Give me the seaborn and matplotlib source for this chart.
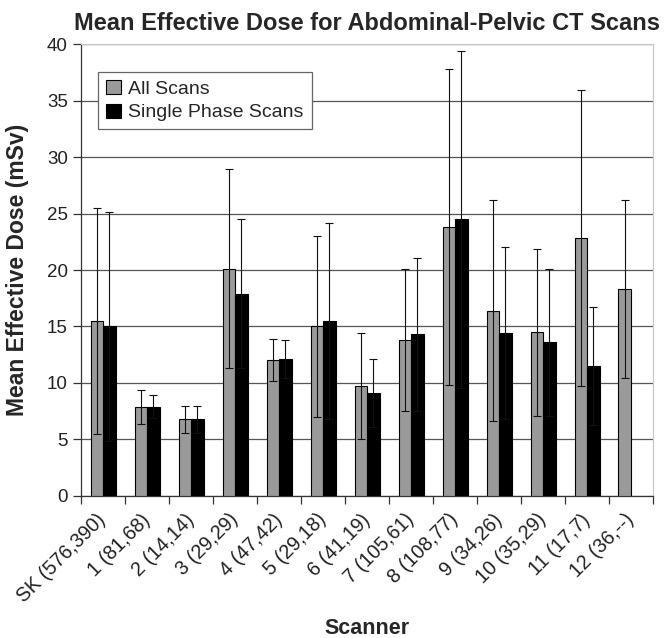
"""
Mean effective dose per scanner, all scans vs single phase scans.

Output:
    out.png
"""

import matplotlib

matplotlib.use("Agg")

import matplotlib.pyplot as plt
import numpy as np
import pandas as pd
import seaborn as sns


SCANNERS = [
    "SK (576,390)", "1 (81,68)", "2 (14,14)", "3 (29,29)", "4 (47,42)",
    "5 (29,18)", "6 (41,19)", "7 (105,61)", "8 (108,77)", "9 (34,26)",
    "10 (35,29)", "11 (17,7)", "12 (36,--)",
]
SERIES = ["All Scans", "Single Phase Scans"]

ALL_MEAN = [15.5, 7.9, 6.8, 20.1, 12.0, 15.0, 9.7, 13.8, 23.8, 16.4, 14.5, 22.8, 18.3]
ALL_SD = [10.0, 1.5, 1.2, 8.8, 1.85, 8.0, 4.7, 6.3, 14.0, 9.8, 7.4, 13.1, 7.9]
SINGLE_MEAN = [15.0, 7.9, 6.8, 17.9, 12.1, 15.5, 9.1, 14.3, 24.5, 14.4, 13.6, 11.5, np.nan]
SINGLE_SD = [10.1, 1.0, 1.2, 6.6, 1.7, 8.7, 3.0, 6.8, 14.9, 7.6, 6.5, 5.2, np.nan]

Y_TICKS = list(range(0, 45, 5))


def build_frame():
    rows = []
    for series, means, sds in (
        (SERIES[0], ALL_MEAN, ALL_SD),
        (SERIES[1], SINGLE_MEAN, SINGLE_SD),
    ):
        for scanner, mean, sd in zip(SCANNERS, means, sds):
            rows.append({"scanner": scanner, "series": series, "dose": mean, "sd": sd})
    return pd.DataFrame(rows)


def add_error_bars(ax, df):
    # one container per hue level, bars matched back to categories by x position
    for series, container in zip(SERIES, ax.containers):
        sub = df[df["series"] == series].set_index("scanner")
        for bar in container:
            height = bar.get_height()
            if not np.isfinite(height):
                continue
            x = bar.get_x() + bar.get_width() / 2
            scanner = SCANNERS[int(round(x))]
            sd = sub.loc[scanner, "sd"]
            ax.errorbar(
                x, height, yerr=sd, fmt="none", ecolor="#111111",
                elinewidth=0.8, capsize=3, capthick=0.8, zorder=4,
            )


def main():
    df = build_frame()

    sns.set_theme(style="white")
    plt.rcParams["font.family"] = ["Liberation Sans", "DejaVu Sans"]

    fig, ax = plt.subplots(figsize=(6.65, 6.38), dpi=100)
    fig.subplots_adjust(left=0.122, right=0.982, bottom=0.2226, top=0.931)

    sns.barplot(
        data=df, x="scanner", y="dose", hue="series", order=SCANNERS,
        hue_order=SERIES, palette=["#9a9a9a", "#000000"], width=0.57,
        errorbar=None, edgecolor="black", linewidth=0.8, saturation=1,
        ax=ax, zorder=3,
    )
    add_error_bars(ax, df)

    ax.set_ylim(0, 40)
    ax.set_yticks(Y_TICKS)
    ax.set_xlim(-0.5, len(SCANNERS) - 0.5)
    ax.set_axisbelow(True)
    ax.yaxis.grid(True, color="#555555", linewidth=0.9)
    ax.xaxis.grid(False)

    ax.spines["left"].set_color("#333333")
    ax.spines["bottom"].set_color("#333333")
    ax.spines["top"].set_color("#c8c8c8")
    ax.spines["right"].set_color("#c8c8c8")
    for spine in ax.spines.values():
        spine.set_linewidth(0.9)

    ax.tick_params(axis="y", direction="out", length=6, width=0.9,
                   color="#333333", labelsize=13.5, labelcolor="#222222", left=True)
    ax.set_xticks(np.arange(len(SCANNERS)))
    ax.set_xticklabels(SCANNERS, rotation=45, ha="right", va="center",
                       rotation_mode="anchor", fontsize=14.2, color="#222222")
    ax.tick_params(axis="x", which="major", length=0, pad=15)
    ax.set_xticks(np.arange(len(SCANNERS) + 1) - 0.5, minor=True)
    ax.tick_params(axis="x", which="minor", direction="out", length=6,
                   width=0.9, color="#333333", bottom=True)

    ax.set_title("Mean Effective Dose for Abdominal-Pelvic CT Scans",
                 fontsize=17, fontweight="bold", pad=10)
    ax.set_ylabel("Mean Effective Dose (mSv)", fontsize=16.5, fontweight="bold")
    ax.set_xlabel("Scanner", fontsize=15.5, fontweight="bold")
    ax.yaxis.set_label_coords(-0.092, 0.5)
    ax.xaxis.set_label_coords(0.5, -0.27)

    handles, labels = ax.get_legend_handles_labels()
    leg = ax.legend(
        handles, labels, loc="upper left", bbox_to_anchor=(0.03, 0.938),
        borderaxespad=0, fontsize=14, frameon=True, fancybox=False,
        handlelength=0.75, handleheight=0.75, handletextpad=0.4,
        labelspacing=0.3, borderpad=0.4,
    )
    leg.get_frame().set_edgecolor("#666666")
    leg.get_frame().set_linewidth(0.9)
    leg.get_frame().set_alpha(1)
    leg.set_zorder(5)

    fig.savefig("out.png", dpi=100)
    plt.close(fig)


if __name__ == "__main__":
    main()
